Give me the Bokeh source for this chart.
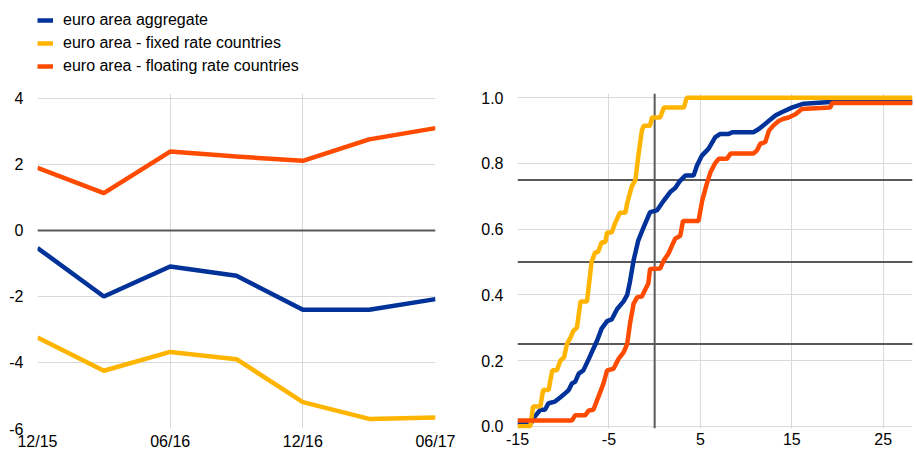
from bokeh.plotting import figure
from bokeh.layouts import row, column
from bokeh.models import (Range1d, FixedTicker, Legend, LegendItem, Span,
                          NumeralTickFormatter)
from bokeh.embed import file_html
from bokeh.resources import INLINE

# ---------------- data ----------------
quarters = ["12/15", "03/16", "06/16", "09/16", "12/16", "03/17", "06/17"]
x_tick_labels = ["12/15", "06/16", "12/16", "06/17"]
y_ticks_left = [-6, -4, -2, 0, 2, 4]

aggregate = [-0.53, -2.0, -1.09, -1.37, -2.4, -2.4, -2.08]
fixed_rate = [-3.24, -4.25, -3.68, -3.9, -5.2, -5.71, -5.67]
floating_rate = [1.9, 1.13, 2.39, 2.24, 2.11, 2.76, 3.1]

series_names = ["euro area aggregate",
                "euro area - fixed rate countries",
                "euro area - floating rate countries"]

# cumulative distributions (right panel)
agg_x = [-15, -13.5, -13.1, -12.5, -12.0, -11.6, -10.9, -10.3, -9.8, -9.4,
         -9.05, -8.7, -8.3, -7.8, -7.2, -6.7, -6.3, -5.8, -5.2, -4.7,
         -4.1, -3.4, -3.0, -2.7, -2.3, -1.8, -1.2, -0.5, 0.25, 1.0,
         1.7, 2.25, 2.8, 3.35, 4.26, 4.63, 5.17, 5.9, 6.63, 7.18,
         8.1, 8.5, 10.8, 11.4, 11.9, 12.5, 13.2, 13.9, 15.0, 16.3,
         19.2, 28.2]
agg_y = [0.01, 0.01, 0.03, 0.05, 0.05, 0.07, 0.075, 0.088, 0.10, 0.11,
         0.13, 0.135, 0.16, 0.17, 0.205, 0.236, 0.26, 0.297, 0.32, 0.325,
         0.357, 0.38, 0.40, 0.44, 0.505, 0.565, 0.606, 0.652, 0.657, 0.687,
         0.713, 0.725, 0.748, 0.763, 0.763, 0.794, 0.824, 0.845, 0.88, 0.89,
         0.89, 0.895, 0.895, 0.905, 0.916, 0.93, 0.946, 0.956, 0.97, 0.982,
         0.987, 0.987]

fix_x = [-15, -13.6, -13.3, -12.5, -12.2, -11.6, -11.2, -10.7, -10.3, -9.9,
         -9.6, -9.2, -8.9, -8.5, -8.1, -7.4, -6.9, -6.5, -6.2, -5.8,
         -5.4, -5.2, -4.7, -4.3, -3.8, -3.2, -3.0, -2.5, -2.1, -1.8,
         -1.4, -1.2, -0.5, -0.3, 0.6, 1.0, 3.2, 3.5, 28.2]
fix_y = [0.0, 0.0, 0.06, 0.06, 0.11, 0.11, 0.17, 0.17, 0.20, 0.21,
         0.25, 0.27, 0.29, 0.30, 0.38, 0.38, 0.50, 0.53, 0.53, 0.56,
         0.56, 0.59, 0.59, 0.62, 0.65, 0.65, 0.68, 0.73, 0.75, 0.82,
         0.90, 0.915, 0.915, 0.94, 0.94, 0.97, 0.97, 1.0, 1.0]

flo_x = [-15, -9.05, -8.7, -7.6, -7.2, -6.7, -6.1, -5.6, -5.2, -4.5,
         -3.95, -3.4, -3.0, -2.7, -2.3, -1.9, -1.4, -1.0, -0.7, -0.5,
         0.6, 1.0, 1.5, 1.9, 2.25, 2.8, 3.1, 4.8, 5.2, 5.7,
         6.1, 6.6, 7.0, 7.9, 8.3, 10.8, 11.2, 11.55, 12.1, 12.5,
         13.0, 13.6, 14.1, 14.65, 15.4, 16.1, 19.2, 19.4, 28.2]
flo_y = [0.017, 0.017, 0.033, 0.033, 0.048, 0.05, 0.093, 0.13, 0.17, 0.175,
         0.205, 0.225, 0.251, 0.312, 0.373, 0.393, 0.395, 0.418, 0.434, 0.479,
         0.48, 0.505, 0.525, 0.55, 0.571, 0.58, 0.625, 0.625, 0.687, 0.738,
         0.773, 0.80, 0.814, 0.814, 0.83, 0.83, 0.84, 0.86, 0.865, 0.90,
         0.916, 0.93, 0.936, 0.94, 0.95, 0.966, 0.97, 0.984, 0.984]

x_ticks_right = [-15, -5, 5, 15, 25]
y_ticks_right = [0.0, 0.2, 0.4, 0.6, 0.8, 1.0]
ref_levels = [0.25, 0.5, 0.75]

# ---------------- styles ----------------
BLUE = "#003299"
YELLOW = "#FFB400"
ORANGE = "#FF4B00"
COLORS = [BLUE, YELLOW, ORANGE]
GRID = "#d9d9d9"
REF = "#595959"
FONT = "Liberation Sans"
FS = "16px"
LW = 4.5

LEG_H = 80
PLOT_H = 373
BORDER_TOP = 13
BORDER_BOTTOM = 25


def style(p):
    p.outline_line_color = None
    p.background_fill_color = "white"
    p.border_fill_color = "white"
    for ax in (p.xaxis[0], p.yaxis[0]):
        ax.axis_label = None
        ax.axis_line_color = None
        ax.major_tick_line_color = None
        ax.minor_tick_line_color = None
        ax.major_tick_out = 0
        ax.major_tick_in = 0
        ax.major_label_text_font = FONT
        ax.major_label_text_font_size = FS
        ax.major_label_text_color = "#000000"
    p.xaxis[0].major_label_standoff = 4
    p.yaxis[0].major_label_standoff = 14
    p.xgrid.grid_line_color = GRID
    p.ygrid.grid_line_color = GRID
    p.xgrid.grid_line_width = 1
    p.ygrid.grid_line_width = 1


# ---------------- left panel ----------------
xi = list(range(len(quarters)))
left_series = [aggregate, fixed_rate, floating_rate]

p1 = figure(width=460, height=PLOT_H, output_backend="svg", toolbar_location=None,
            x_range=Range1d(0, len(quarters) - 1), y_range=Range1d(-6, 4.15),
            min_border_left=37, min_border_right=25, min_border_top=BORDER_TOP,
            min_border_bottom=BORDER_BOTTOM)
style(p1)
tick_pos = [quarters.index(t) for t in x_tick_labels]
p1.xaxis.ticker = FixedTicker(ticks=tick_pos)
p1.xaxis.major_label_overrides = {i: t for i, t in zip(tick_pos, x_tick_labels)}
p1.yaxis.ticker = FixedTicker(ticks=y_ticks_left)
p1.yaxis.major_label_overrides = {v: str(v) for v in y_ticks_left}

p1.add_layout(Span(location=0, dimension="width", line_color=REF,
                   line_width=2, level="underlay"))

for ys, col in zip(left_series, COLORS):
    p1.line(xi, ys, line_color=col, line_width=LW)

# ---------------- legend strip (above the left panel) ----------------
pl = figure(width=460, height=LEG_H, output_backend="svg", toolbar_location=None,
            x_range=Range1d(0, 1), y_range=Range1d(0, 1),
            min_border_left=37, min_border_right=0, min_border_top=9,
            min_border_bottom=0)
pl.axis.visible = False
pl.grid.visible = False
pl.outline_line_color = None
items = []
for name, ys, col in zip(series_names, left_series, COLORS):
    r = pl.line(xi, ys, line_color=col, line_width=LW, visible=False)
    items.append(LegendItem(label=name, renderers=[r]))
legend = Legend(items=items, location="top_left", orientation="vertical",
                glyph_width=16, glyph_height=22, label_height=22,
                label_standoff=10, spacing=1, padding=0, margin=0,
                border_line_color=None, background_fill_alpha=0,
                inactive_fill_alpha=0,
                label_text_font=FONT, label_text_font_size=FS,
                label_text_color="#000000")
pl.add_layout(legend)

# ---------------- right panel ----------------
p2 = figure(width=456, height=PLOT_H, output_backend="svg", toolbar_location=None,
            x_range=Range1d(-15, 28.2), y_range=Range1d(-0.007, 1.013),
            min_border_left=57, min_border_right=4, min_border_top=BORDER_TOP,
            min_border_bottom=BORDER_BOTTOM)
style(p2)
p2.xaxis.ticker = FixedTicker(ticks=x_ticks_right)
p2.xaxis.major_label_overrides = {v: str(v) for v in x_ticks_right}
p2.yaxis.ticker = FixedTicker(ticks=y_ticks_right)
p2.yaxis.formatter = NumeralTickFormatter(format="0.0")

for lv in ref_levels:
    p2.add_layout(Span(location=lv, dimension="width", line_color=REF,
                       line_width=2, level="underlay"))
p2.add_layout(Span(location=0, dimension="height", line_color=REF,
                   line_width=2, level="underlay"))

p2.line(agg_x, agg_y, line_color=BLUE, line_width=LW)
p2.line(fix_x, fix_y, line_color=YELLOW, line_width=LW)
p2.line(flo_x, flo_y, line_color=ORANGE, line_width=LW)

layout = column(pl, row(p1, p2))
open("out.html", "w").write(file_html(layout, INLINE))
